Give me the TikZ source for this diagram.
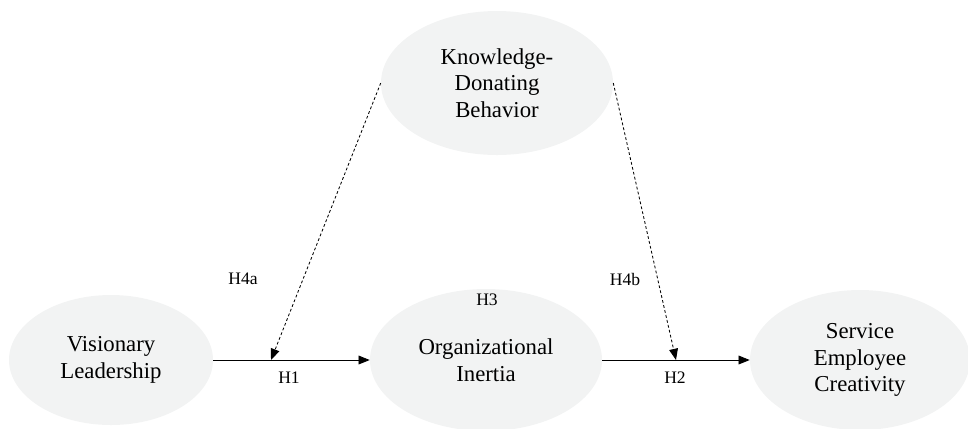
\documentclass[tikz,border=0pt]{standalone}
\usepackage{fontspec}
\setmainfont{Liberation Serif}
\usepackage{tikz}
\usetikzlibrary{arrows.meta,shapes.geometric,positioning}
\definecolor{bubble}{HTML}{F2F3F3}
\tikzset{
  construct/.style={ellipse, fill=bubble, inner sep=0pt, align=center,
    font=\fontsize{16.2}{19}\selectfont},
  path/.style={line width=0.6pt, -{Triangle[length=2.8mm,width=2.2mm]}},
  moderation/.style={path, dash pattern=on 2pt off 1.6pt},
  hyp/.style={font=\fontsize{12.5}{14}\selectfont}
}

\begin{document}
\begin{tikzpicture}
\useasboundingbox (0cm,0cm) rectangle (24.2cm,-10.7cm);
% the four constructs
\node[construct, minimum width=5.1cm, minimum height=3.25cm] (vl) at (2.775cm,-9cm) {Visionary\\Leadership};
\node[construct, minimum width=5.8cm, minimum height=3.55cm] (oi) at (12.15cm,-9cm) {Organizational\\Inertia};
\node[construct, minimum width=5.5cm, minimum height=3.5cm] (sec) at (21.5cm,-9cm) {Service\\Employee\\Creativity};
\node[construct, minimum width=5.8cm, minimum height=3.6cm] (kdb) at (12.425cm,-2.075cm) {Knowledge-\\Donating\\Behavior};
% where the moderating arrows land
\coordinate (m1) at (6.775cm,-9cm);
\coordinate (m2) at (16.9cm,-9cm);
% main paths
\draw[path] (vl.east) -- (oi.west);
\draw[path] (oi.east) -- (sec.west);
% moderation
\draw[moderation] (kdb.west) -- (m1);
\draw[moderation] (kdb.east) -- (m2);
% hypothesis labels
\node[hyp] (h1) at (7.225cm,-9.45cm) {H1};
\node[hyp] (h2) at (16.875cm,-9.45cm) {H2};
\node[hyp] (h3) at (12.175cm,-7.5cm) {H3};
\node[hyp] (h4a) at (6.075cm,-6.975cm) {H4a};
\node[hyp] (h4b) at (15.625cm,-6.975cm) {H4b};
\end{tikzpicture}
\end{document}
